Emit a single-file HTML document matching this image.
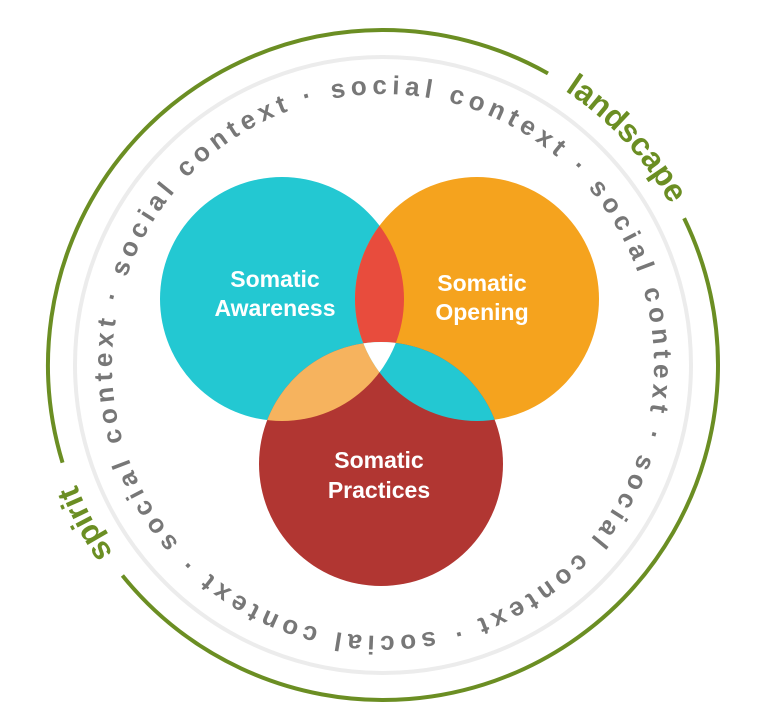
<!DOCTYPE html>
<html><head><meta charset="utf-8"><style>
html,body{margin:0;padding:0;background:#fff;}
svg{display:block;}
</style></head><body>
<svg width="768" height="720" viewBox="0 0 768 720" xmlns="http://www.w3.org/2000/svg">
<defs>
  <path id="ring" d="M383,94 A271,271 0 1 1 382.99,94"/>
  <path id="gring" d="M383,36 A329,329 0 1 1 382.99,36"/>
  <clipPath id="cc"><circle cx="282" cy="299" r="122"/></clipPath>
  <clipPath id="co"><circle cx="477" cy="299" r="122"/></clipPath>
  <clipPath id="cr"><circle cx="381" cy="464" r="122"/></clipPath>
</defs>
<circle cx="383" cy="365" r="308" fill="none" stroke="#ececec" stroke-width="4"/>
<path d="M383,30 A335,335 0 1 1 382.99,30" fill="none" stroke="#6b8e23" stroke-width="4" stroke-dasharray="172.5 201.7 976.5 128.6 625.6"/>
<text font-family="Liberation Sans, sans-serif" font-weight="bold" font-size="32" fill="#6b8e23" text-anchor="middle">
  <textPath href="#gring" startOffset="13.1%">landscape</textPath>
</text>
<text font-family="Liberation Sans, sans-serif" font-weight="bold" font-size="32" fill="#6b8e23" text-anchor="middle">
  <textPath href="#gring" startOffset="67.2%">spirit</textPath>
</text>
<g transform="rotate(-13.4 383 365)">
<text font-family="Liberation Sans, sans-serif" font-weight="bold" font-size="26" fill="#777">
  <textPath href="#ring" textLength="1695" lengthAdjust="spacing">&#160;social context&#160;·&#160;social context&#160;·&#160;social context&#160;·&#160;social context&#160;·&#160;social context&#160;·&#160;social context&#160;·</textPath>
</text>
</g>
<circle cx="282" cy="299" r="122" fill="#23c8d2"/>
<circle cx="477" cy="299" r="122" fill="#f5a31e"/>
<circle cx="381" cy="464" r="122" fill="#b13632"/>
<g clip-path="url(#cc)"><circle cx="477" cy="299" r="122" fill="#e84c3d"/></g>
<g clip-path="url(#cc)"><circle cx="381" cy="464" r="122" fill="#f6b35e"/></g>
<g clip-path="url(#co)"><circle cx="381" cy="464" r="122" fill="#23c8d2"/></g>
<g clip-path="url(#cc)"><g clip-path="url(#co)"><circle cx="381" cy="464" r="122" fill="#fff"/></g></g>
<g font-family="Liberation Sans, sans-serif" font-weight="bold" font-size="23" fill="#fff" text-anchor="middle">
  <text x="275" y="287">Somatic</text>
  <text x="275" y="316">Awareness</text>
  <text x="482" y="291">Somatic</text>
  <text x="482" y="320">Opening</text>
  <text x="379" y="468">Somatic</text>
  <text x="379" y="498">Practices</text>
</g>
</svg>
</body></html>
